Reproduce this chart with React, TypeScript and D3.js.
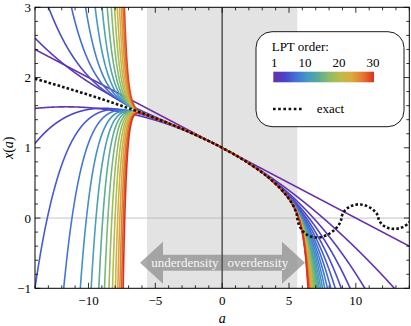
import React from 'react';
import * as d3 from 'd3';

// Taylor coefficients of x(a) (LPT series), index = order
const lptCoefficients = [
  1, -1.0e-1, -4.2857e-3, -3.6508e-4, -3.9043e-5, -4.6996e-6, -6.0864e-7, -8.2861e-8,
  -1.1698e-8, -1.6978e-9, -2.5183e-10, -3.8013e-11, -5.8217e-12, -9.0245e-13, -1.4134e-13,
  -2.2335e-14, -3.5567e-15, -5.7025e-16, -9.1978e-17, -1.4915e-17, -2.4302e-18, -3.9769e-19,
  -6.5336e-20, -1.0772e-20, -1.7819e-21, -2.9564e-22, -4.9185e-23, -8.2037e-24, -1.3716e-24,
  -2.2981e-25, -3.8586e-26,
];
const lptOrders = d3.range(1, 31);

// exact solution samples
const exactA = [
  -14, -13, -12, -11, -10, -9, -8, -7, -6, -5, -4, -3, -2, -1, 0, 1, 2, 3, 3.54, 4.27, 4.86, 5.28,
  5.51, 5.61, 5.62, 5.64, 5.73, 5.96, 6.33, 6.82, 7.37, 7.89, 8.33, 8.65, 8.84, 8.91, 8.92, 8.93,
  9.01, 9.19, 9.5, 9.9, 10.36, 10.8, 11.18, 11.46, 11.62, 11.68, 11.69, 11.7, 11.77, 11.93, 12.2,
  12.55, 12.96, 13.36, 13.7, 13.95, 14.1,
];
const exactX = [
  1.983, 1.928, 1.872, 1.814, 1.755, 1.693, 1.629, 1.563, 1.495, 1.423, 1.348, 1.269, 1.185, 1.096,
  1, 0.895, 0.779, 0.647, 0.565, 0.437, 0.308, 0.19, 0.091, 0.024, 0, -0.024, -0.087, -0.168,
  -0.237, -0.273, -0.272, -0.236, -0.18, -0.116, -0.057, -0.015, 0, 0.015, 0.055, 0.109, 0.158,
  0.188, 0.193, 0.173, 0.134, 0.087, 0.043, 0.011, 0, -0.011, -0.042, -0.084, -0.123, -0.149,
  -0.154, -0.14, -0.109, -0.072, -0.035,
];

const aDomain = [-14, 14];
const xDomain = [-1, 3];
const aTicksMajor = [-10, -5, 0, 5, 10];
const xTicksMajor = [-1, 0, 1, 2, 3];
const legendTicks = [1, 10, 20, 30];
const collapseA = 5.62;
const rainbowStops = [
  '#6b2fa6', '#4a42c8', '#4270d8', '#4497c4', '#58ac98', '#8ebb68', '#bcbc48', '#dcaa3c',
  '#e2792f', '#de3022',
];

const FONT = 'Liberation Serif';
const fmt = (v: number) => (v < 0 ? '\u2212' + Math.abs(v) : String(v));

export default function App() {
  const W = 411, H = 326;
  const L = 35, R = 409.3, T = 7.3, B = 288.3;
  const xs = d3.scaleLinear().domain(aDomain).range([L, R]);
  const ys = d3.scaleLinear().domain(xDomain).range([B, T]);
  const color = d3
    .scaleLinear<string>()
    .domain(rainbowStops.map((_, i) => i / (rainbowStops.length - 1)))
    .range(rainbowStops)
    .interpolate(d3.interpolateRgb);
  const orderT = (n: number) => (n - 1) / 29;

  const grid = d3.range(aDomain[0], aDomain[1] + 1e-9, 0.01);
  const line = d3
    .line<[number, number]>()
    .x((d) => xs(d[0]))
    .y((d) => ys(Math.max(-6, Math.min(10, d[1]))));
  const curves = lptOrders.map((n) => {
    const pts: [number, number][] = grid.map((a) => {
      let s = 0, p = 1;
      for (let k = 0; k <= n; k++) { s += lptCoefficients[k] * p; p *= a; }
      return [a, s];
    });
    return { n, d: line(pts) || '' };
  });

  const exactLine = d3
    .line<number>()
    .x((_, i) => xs(exactA[i]))
    .y((v) => ys(v))
    .curve(d3.curveCatmullRom.alpha(0.5));
  const exactD = exactLine(exactX) || '';

  const aMinor = d3.range(-14, 14.01, 1);
  const xMinor = d3.range(-1, 3.001, 0.2);

  // arrow geometry (pixels)
  const ay = 262.7, tipL = 140, tipR = 305, baseL = 163, baseR = 282, headH = 21, shaftH = 8;
  const arrowPts = [
    [tipL, ay], [baseL, ay - headH], [baseL, ay - shaftH], [baseR, ay - shaftH], [baseR, ay - headH],
    [tipR, ay], [baseR, ay + headH], [baseR, ay + shaftH], [baseL, ay + shaftH], [baseL, ay + headH],
  ].map((p) => p.join(',')).join(' ');

  // legend
  const lx = 256, ly = 31.7, lw = 148, lh = 95;
  const barX0 = 273.3, barX1 = 374, barY = 71.7, barH = 10.6;
  const legScale = d3.scaleLinear().domain([1, 30]).range([barX0 + 1, barX1 - 1]);

  return (
    <div style={{ position: 'fixed', left: 0, top: 0 }}>
      <svg width={W} height={H} style={{ display: 'block', background: '#fff', fontFamily: FONT }}>
        <defs>
          <clipPath id="plotClip">
            <rect x={L} y={T} width={R - L} height={B - T} />
          </clipPath>
          <linearGradient id="rainbow" x1="0" x2="1" y1="0" y2="0">
            {rainbowStops.map((c, i) => (
              <stop key={i} offset={i / (rainbowStops.length - 1)} stopColor={c} />
            ))}
          </linearGradient>
        </defs>
        <g clipPath="url(#plotClip)">
          <rect x={xs(-collapseA)} y={T} width={xs(collapseA) - xs(-collapseA)} height={B - T} fill="#e3e3e3" />
          <line x1={L} x2={R} y1={ys(0)} y2={ys(0)} stroke="#b4b4b4" strokeWidth={0.8} />
          <polygon points={arrowPts} fill="#8c8c8c" fillOpacity={0.72} />
          <line x1={xs(0)} x2={xs(0)} y1={T} y2={B} stroke="#4a4a4a" strokeWidth={1.4} />
          {curves.map((c) => (
            <path key={c.n} d={c.d} fill="none" stroke={color(orderT(c.n))} strokeWidth={1.6} />
          ))}
          <path d={exactD} fill="none" stroke="#111" strokeWidth={2.6} strokeDasharray="2.6 2.1" />
        </g>
        <text x={218.5} y={266.5} textAnchor="end" fontSize={13} fill="#f6f6f6">underdensity</text>
        <text x={227.5} y={266.5} textAnchor="start" fontSize={13} fill="#f6f6f6">overdensity</text>

        {/* frame */}
        <rect x={L} y={T} width={R - L} height={B - T} fill="none" stroke="#000" strokeWidth={1} />
        {aMinor.map((a) => {
          const major = aTicksMajor.includes(a);
          const len = major ? 5.5 : 3;
          return (
            <g key={'a' + a}>
              <line x1={xs(a)} x2={xs(a)} y1={B} y2={B - len} stroke="#000" strokeWidth={0.8} />
              <line x1={xs(a)} x2={xs(a)} y1={T} y2={T + len} stroke="#000" strokeWidth={0.8} />
            </g>
          );
        })}
        {xMinor.map((v) => {
          const major = xTicksMajor.some((m) => Math.abs(m - v) < 1e-6);
          const len = major ? 5.5 : 3;
          return (
            <g key={'x' + v.toFixed(1)}>
              <line x1={L} x2={L + len} y1={ys(v)} y2={ys(v)} stroke="#000" strokeWidth={0.8} />
              <line x1={R} x2={R - len} y1={ys(v)} y2={ys(v)} stroke="#000" strokeWidth={0.8} />
            </g>
          );
        })}
        {aTicksMajor.map((a) => (
          <text key={'al' + a} x={xs(a)} y={305} textAnchor="middle" fontSize={13}>
            {fmt(a)}
          </text>
        ))}
        {xTicksMajor.map((v) => (
          <text key={'xl' + v} x={31} y={ys(v) + 4.5} textAnchor="end" fontSize={13}>
            {fmt(v)}
          </text>
        ))}
        <text x={xs(0)} y={323} textAnchor="middle" fontSize={14} fontStyle="italic">a</text>
        <text transform={`translate(13,${(T + B) / 2}) rotate(-90)`} textAnchor="middle" fontSize={14}>
          <tspan fontStyle="italic">x</tspan>(<tspan fontStyle="italic">a</tspan>)
        </text>

        {/* legend */}
        <rect x={lx} y={ly} width={lw} height={lh} rx={16} ry={16} fill="#fff" stroke="#000" strokeWidth={0.9} />
        <text x={271.7} y={50.7} fontSize={13}>LPT order:</text>
        {legendTicks.map((t) => (
          <text key={'lt' + t} x={legScale(t)} y={67.3} textAnchor="middle" fontSize={13}>
            {t}
          </text>
        ))}
        <rect x={barX0} y={barY} width={barX1 - barX0} height={barH} fill="url(#rainbow)" />
        <line x1={273} x2={304} y1={109} y2={109} stroke="#111" strokeWidth={2.6} strokeDasharray="2.6 2.6" />
        <text x={316.7} y={112.5} fontSize={13}>exact</text>
      </svg>
    </div>
  );
}
